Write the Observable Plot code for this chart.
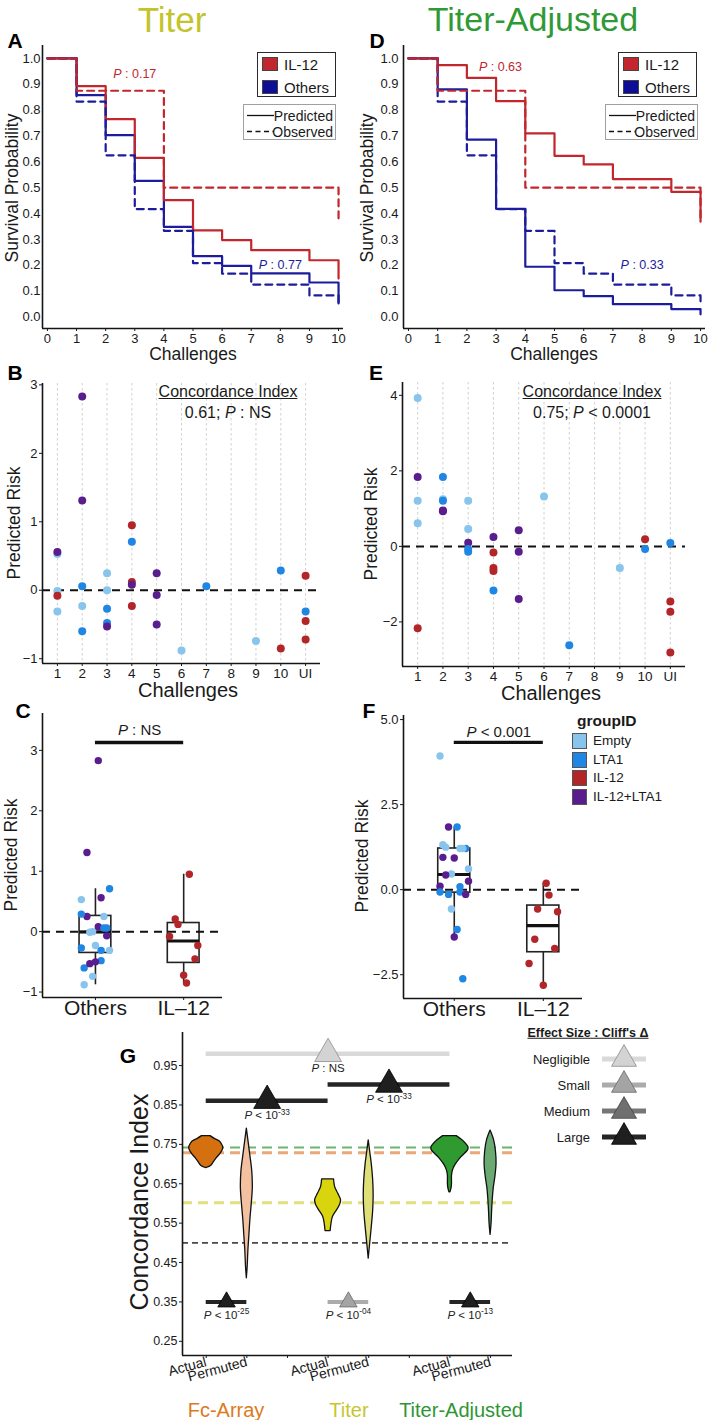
<!DOCTYPE html>
<html>
<head>
<meta charset="utf-8">
<script src="https://cdn.jsdelivr.net/npm/d3@7"></script>
<script src="https://cdn.jsdelivr.net/npm/@observablehq/plot@0.6"></script>
<style>
  html,body{margin:0;padding:0;background:#fff;}
  #root{position:relative;width:709px;height:1420px;overflow:hidden;font-family:"Liberation Sans",Arial,sans-serif;color:#1a1a1a;background:#fff;}
  .pl{position:absolute;}
  .pl svg{max-width:none !important;}
  .t{position:absolute;white-space:nowrap;line-height:1;}
</style>
</head>
<body>
<div id="root"></div>
<script>
// ================= DATA =================
// Survival curves (A, D)
const challenges = [0,1,2,3,4,5,6,7,8,9,10];
const titerPredIL12   = [1, 0.893, 0.765, 0.615, 0.452, 0.335, 0.297, 0.258, 0.258, 0.219, 0.148];
const titerPredOthers = [1, 0.858, 0.703, 0.526, 0.348, 0.235, 0.197, 0.168, 0.168, 0.133, 0.052];
const adjPredIL12     = [1, 0.974, 0.925, 0.835, 0.710, 0.623, 0.590, 0.533, 0.533, 0.484, 0.368];
const adjPredOthers   = [1, 0.880, 0.686, 0.418, 0.194, 0.103, 0.080, 0.049, 0.049, 0.030, 0.010];
const obsIL12         = [1, 0.875, 0.875, 0.875, 0.500, 0.500, 0.500, 0.500, 0.500, 0.500, 0.375];
const obsOthers       = [1, 0.833, 0.625, 0.417, 0.333, 0.208, 0.167, 0.125, 0.125, 0.083, 0.042];
const survTicks = [0, 0.1, 0.2, 0.3, 0.4, 0.5, 0.6, 0.7, 0.8, 0.9, 1.0];

// Predicted risk by challenge (B: Titer, E: Titer-Adjusted); 11 = UI
const challengeTickLabels = ["1","2","3","4","5","6","7","8","9","10","UI"];
const groupNames  = ["Empty","LTA1","IL-12","IL-12+LTA1"];
const groupColors = ["#88c4ec","#1f86e4","#b22528","#5a1d8e"];

const titerRiskChallenge = [1,1,1,1,1, 2,2,2,2,2, 3,3,3,3,3, 4,4,4,4,4, 5,5,5, 6, 7, 9, 10,10, 11,11,11,11];
const titerRiskGroup = ["Empty","IL-12+LTA1","Empty","IL-12","Empty",
  "IL-12+LTA1","IL-12+LTA1","LTA1","Empty","LTA1",
  "Empty","Empty","LTA1","LTA1","IL-12+LTA1",
  "IL-12","LTA1","IL-12","IL-12+LTA1","IL-12",
  "IL-12+LTA1","IL-12+LTA1","IL-12+LTA1",
  "Empty","LTA1","Empty","LTA1","IL-12",
  "IL-12","LTA1","IL-12","IL-12"];
const titerRiskValue = [0.53,0.56,-0.01,-0.08,-0.31,
  2.83,1.31,0.06,-0.23,-0.60,
  0.25,0.00,-0.27,-0.48,-0.53,
  0.95,0.71,0.12,0.08,-0.23,
  0.25,-0.07,-0.50,
  -0.88,0.06,-0.74,0.29,-0.85,
  0.21,-0.31,-0.45,-0.72];

const adjRiskChallenge = [1,1,1,1,1, 2,2,2,2,2, 3,3,3,3,3, 4,4,4,4,4, 5,5,5, 6, 7, 9, 10,10, 11,11,11,11];
const adjRiskGroup = ["Empty","Empty","IL-12+LTA1","Empty","IL-12",
  "LTA1","Empty","LTA1","IL-12+LTA1","IL-12+LTA1",
  "Empty","Empty","IL-12+LTA1","LTA1","LTA1",
  "IL-12+LTA1","IL-12","IL-12","IL-12","LTA1",
  "IL-12+LTA1","IL-12+LTA1","IL-12+LTA1",
  "Empty","LTA1","Empty","IL-12","LTA1",
  "LTA1","IL-12","IL-12","IL-12"];
const adjRiskValue = [3.93,1.21,1.84,0.61,-2.17,
  1.84,1.25,1.21,0.93,0.95,
  1.21,0.46,0.10,-0.07,-0.14,
  0.25,-0.16,-0.57,-0.65,-1.17,
  0.43,-0.14,-1.39,
  1.32,-2.62,-0.57,0.19,-0.07,
  0.09,-1.46,-1.73,-2.81];

const boxTickLabels = ["Others","IL\u201312"];

// Panel G: concordance index violins
const gCategoryLabels = ["Actual","Permuted","","Actual","Permuted","","Actual","Permuted"];
const gTicks = [0.25, 0.35, 0.45, 0.55, 0.65, 0.75, 0.85, 0.95];
const violinPos = [1, 2, 4, 5, 7, 8];
const violinFcActualY = [0.690, 0.696, 0.705, 0.714, 0.724, 0.734, 0.742, 0.750, 0.757, 0.764, 0.771];
const violinFcActualD = [0.02, 0.30, 0.45, 0.60, 0.80, 0.95, 1.00, 0.92, 0.80, 0.50, 0.25];
const violinFcPermY = [0.41, 0.44, 0.48, 0.52, 0.56, 0.60, 0.64, 0.68, 0.72, 0.76, 0.79];
const violinFcPermD = [0.00, 0.05, 0.09, 0.15, 0.21, 0.29, 0.35, 0.32, 0.21, 0.09, 0.00];
const violinTiterActualY = [0.530, 0.549, 0.566, 0.583, 0.596, 0.608, 0.625, 0.642, 0.661];
const violinTiterActualD = [0.15, 0.20, 0.29, 0.53, 0.70, 0.76, 0.59, 0.41, 0.35];
const violinTiterPermY = [0.46, 0.50, 0.54, 0.58, 0.62, 0.66, 0.70, 0.73, 0.76];
const violinTiterPermD = [0.00, 0.09, 0.18, 0.26, 0.29, 0.26, 0.18, 0.09, 0.00];
const violinAdjActualY = [0.628, 0.640, 0.650, 0.671, 0.684, 0.696, 0.714, 0.734, 0.742, 0.757, 0.771];
const violinAdjActualD = [0.03, 0.10, 0.12, 0.12, 0.18, 0.30, 0.60, 1.05, 1.09, 0.82, 0.40];
const violinAdjPermY = [0.52, 0.55, 0.58, 0.61, 0.64, 0.67, 0.70, 0.73, 0.76, 0.785];
const violinAdjPermD = [0.00, 0.06, 0.09, 0.13, 0.19, 0.29, 0.35, 0.32, 0.21, 0.00];
const refLineValues = [0.500, 0.602, 0.729, 0.742];

const effectX1 = [1, 1, 4, 1, 4, 7];
const effectX2 = [7, 4, 7, 2, 5, 8];
const effectY  = [0.980, 0.861, 0.902, 0.350, 0.350, 0.350];
const effectSize = ["Negligible","Large","Large","Large","Small","Large"];
const effectP = ["_P_ : NS","_P_ < 10^-33^","_P_ < 10^-33^","_P_ < 10^-25^","_P_ < 10^-04^","_P_ < 10^-13^"];
const effectLevels = ["Negligible","Small","Medium","Large"];

// ================= STYLE =================
const FONT = '"Liberation Sans", Arial, sans-serif';
const RED = "#c1272d", BLUE = "#1c1c9c";
const violinColors = ["#d4700f","#f3c0a0","#d8d50f","#dfdf7a","#2f9a2f","#6aaa72"];
const refLineColors = ["#4a4a4a","#e0e07c","#eba67a","#6db56d"];
const effectBarColors  = ["#d9d9d9","#ababab","#767676","#252525"];
const effectTriFill    = ["#d3d3d3","#a4a4a4","#6f6f6f","#1f1f1f"];
const effectTriStroke  = ["#8c8c8c","#6b6b6b","#444444","#000000"];
const baseStyle = {fontFamily: FONT, background: "transparent", color: "#1a1a1a", overflow: "visible"};
const AX = "#151515";

// ================= HELPERS =================
const root = document.getElementById("root");
function T(html, x, y, o = {}) {
  const d = document.createElement("div");
  d.className = "t";
  d.innerHTML = html;
  Object.assign(d.style, {left: x + "px", top: y + "px", fontSize: (o.size || 14) + "px",
    color: o.color || "#1a1a1a", fontWeight: o.bold ? "bold" : "normal"});
  if (o.underline) d.style.textDecoration = "underline";
  const ax = o.anchor === "start" ? "0" : o.anchor === "end" ? "-100%" : "-50%";
  d.style.transform = `translate(${ax},-50%)` + (o.rot ? ` rotate(${o.rot}deg)` : "");
  (o.parent || root).appendChild(d);
  return d;
}
function richify(svg) {
  const NS = "http://www.w3.org/2000/svg";
  svg.querySelectorAll("text").forEach(t => {
    const s = t.textContent;
    if (!/[_^]/.test(s)) return;
    while (t.firstChild) t.removeChild(t.firstChild);
    let it = false, sup = false, buf = "";
    const flush = () => {
      if (!buf) return;
      const ts = document.createElementNS(NS, "tspan");
      if (it) ts.setAttribute("font-style", "italic");
      if (sup) { ts.setAttribute("font-size", "0.72em"); ts.setAttribute("dy", "-0.5em"); }
      ts.textContent = buf; t.appendChild(ts); buf = "";
    };
    for (const ch of s) {
      if (ch === "_") { flush(); it = !it; }
      else if (ch === "^") { flush(); sup = !sup; }
      else buf += ch;
    }
    flush();
  });
}
function place(svg, left, top) {
  const d = document.createElement("div");
  d.className = "pl";
  d.style.left = left + "px"; d.style.top = top + "px";
  d.appendChild(svg); root.appendChild(d); richify(svg);
}
function boxStats(vals) {
  const s = vals.slice().sort(d3.ascending);
  const q1 = d3.quantile(s, 0.25), med = d3.quantile(s, 0.5), q3 = d3.quantile(s, 0.75);
  const iqr = q3 - q1;
  return {q1, med, q3, lo: d3.min(s.filter(v => v >= q1 - 1.5 * iqr)), hi: d3.max(s.filter(v => v <= q3 + 1.5 * iqr))};
}
const intFmt = d3.format("d");

// ================= A / D: survival =================
function survPlot(predIL, predOth, pLabels, o) {
  const mk = arr => challenges.map((c, i) => ({x: c, y: arr[i]}));
  const yd = [-0.045, 1.05], xd = [-0.17, 10.17];
  return Plot.plot({
    width: o.width, height: 370, marginLeft: o.ml, marginRight: o.mr, marginTop: 45, marginBottom: 42,
    x: {domain: xd, label: null}, y: {domain: yd, label: null},
    style: baseStyle,
    marks: [
      Plot.axisX({ticks: challenges, tickSize: 3, tickPadding: 2, fontSize: 13, label: null}),
      Plot.axisY({ticks: survTicks, tickFormat: d3.format(".1f"), tickSize: 0, tickPadding: o.tp, fontSize: 13, label: null}),
      Plot.line(mk(predOth), {x: "x", y: "y", curve: "step-after", stroke: BLUE, strokeWidth: 2.2}),
      Plot.line(mk(predIL), {x: "x", y: "y", curve: "step-after", stroke: RED, strokeWidth: 2.2}),
      Plot.line(mk(obsOthers), {x: "x", y: "y", curve: "step-after", stroke: BLUE, strokeWidth: 2.2, strokeDasharray: "7,5"}),
      Plot.line(mk(obsIL12), {x: "x", y: "y", curve: "step-after", stroke: RED, strokeWidth: 2.2, strokeDasharray: "7,5"}),
      ...pLabels.map(p => Plot.text([p], {x: "x", y: "y", text: "label", fill: p.color, fontSize: 12.5})),
      Plot.ruleX([xd[0]], {stroke: AX, strokeWidth: 1.6}),
      Plot.ruleY([yd[0]], {stroke: AX, strokeWidth: 1.6})
    ]
  });
}
place(survPlot(titerPredIL12, titerPredOthers,
  [{x: 3.0, y: 0.94, label: "_P_ : 0.17", color: RED}, {x: 8.0, y: 0.2, label: "_P_ : 0.77", color: BLUE}],
  {width: 355, ml: 42, mr: 12, tp: 2}), 0, 0);
place(survPlot(adjPredIL12, adjPredOthers,
  [{x: 3.15, y: 0.965, label: "_P_ : 0.63", color: RED}, {x: 8.0, y: 0.2, label: "_P_ : 0.33", color: BLUE}],
  {width: 354, ml: 48, mr: 4, tp: 5}), 355, 0);

// ================= B / E: risk by challenge =================
function riskPlot(ch, grp, val, o) {
  const rows = val.map((v, i) => ({challenge: ch[i], group: grp[i], value: v}));
  const cats = d3.range(1, challengeTickLabels.length + 1);
  const xd = [0.4, challengeTickLabels.length + 0.6];
  return Plot.plot({
    width: o.width, height: 330, marginLeft: o.ml, marginRight: o.mr, marginTop: o.mt, marginBottom: o.mb,
    x: {domain: xd, label: null}, y: {domain: o.yd, label: null},
    color: {domain: groupNames, range: groupColors},
    style: baseStyle,
    marks: [
      Plot.ruleX(cats, {stroke: "#c4c4c4", strokeWidth: 0.8, strokeDasharray: "2.5,2.5"}),
      Plot.ruleY([0], {stroke: "#111", strokeWidth: 2, strokeDasharray: "8,6"}),
      Plot.axisX({ticks: cats, tickFormat: d => challengeTickLabels[d - 1], tickSize: 3, tickPadding: 2, fontSize: 13.5, label: null}),
      Plot.axisY({ticks: o.yt, tickFormat: intFmt, tickSize: 3, tickPadding: 2, fontSize: 13, label: null}),
      Plot.dot(rows, {x: "challenge", y: "value", fill: "group", r: 4}),
      Plot.ruleX([xd[0]], {stroke: AX, strokeWidth: 1.6}),
      Plot.ruleY([o.yd[0]], {stroke: AX, strokeWidth: 1.6})
    ]
  });
}
place(riskPlot(titerRiskChallenge, titerRiskGroup, titerRiskValue,
  {width: 355, ml: 42, mr: 35, mt: 13, mb: 37, yd: [-1.07, 3.02], yt: [-1, 0, 1, 2, 3]}), 0, 370);
place(riskPlot(adjRiskChallenge, adjRiskGroup, adjRiskValue,
  {width: 354, ml: 47, mr: 24, mt: 12, mb: 34, yd: [-3.18, 4.34], yt: [-2, 0, 2, 4]}), 355, 370);

// ================= C / F: box plots =================
function boxPlot(grp, val, o) {
  const counters = {1: 0, 2: 0};
  const rows = val.map((v, i) => {
    const box = grp[i] === "IL-12" ? 2 : 1;
    const k = counters[box]++;
    return {box, group: grp[i], value: v, jit: (((k * 7) % 11) / 10 - 0.5) * 0.32};
  });
  const stats = [1, 2].map(b => ({pos: b, ...boxStats(rows.filter(r => r.box === b).map(r => r.value))}));
  const BW = 0.18;
  return Plot.plot({
    width: o.width, height: 330, marginLeft: o.ml, marginRight: o.mr, marginTop: o.mt, marginBottom: o.mb,
    x: {domain: o.xd, label: null}, y: {domain: o.yd, label: null},
    color: {domain: groupNames, range: groupColors},
    style: baseStyle,
    marks: [
      Plot.axisX({ticks: [1, 2], tickFormat: d => boxTickLabels[d - 1], tickSize: 3, tickPadding: 0, fontSize: 21, label: null}),
      Plot.axisY({ticks: o.yt, tickFormat: o.fmt, tickSize: 3, tickPadding: 2, fontSize: 13, label: null}),
      Plot.ruleX(stats, {x: "pos", y1: "lo", y2: "q1", stroke: "#222", strokeWidth: 1.6}),
      Plot.ruleX(stats, {x: "pos", y1: "q3", y2: "hi", stroke: "#222", strokeWidth: 1.6}),
      Plot.rect(stats, {x1: d => d.pos - BW, x2: d => d.pos + BW, y1: "q1", y2: "q3", fill: "none", stroke: "#222", strokeWidth: 1.6}),
      Plot.ruleY(stats, {y: "med", x1: d => d.pos - BW, x2: d => d.pos + BW, stroke: "#111", strokeWidth: 3.2}),
      Plot.ruleY([0], {stroke: "#111", strokeWidth: 2, strokeDasharray: "8,6"}),
      Plot.dot(rows, {x: d => d.box + d.jit, y: "value", fill: "group", r: 3.7}),
      Plot.ruleY([o.sigY], {x1: () => 1, x2: () => 2, stroke: "#111", strokeWidth: 3.4}),
      Plot.text([o.sigText], {x: () => 1.5, y: () => o.sigTextY, text: d => d, fontSize: 15, fill: "#1a1a1a"}),
      Plot.ruleX([o.xd[0]], {stroke: AX, strokeWidth: 1.6}),
      Plot.ruleY([o.yd[0]], {stroke: AX, strokeWidth: 1.6})
    ]
  });
}
place(boxPlot(titerRiskGroup, titerRiskValue,
  {width: 355, ml: 42, mr: 133, mt: 13, mb: 33, xd: [0.4, 2.44], yd: [-1.09, 3.61], yt: [-1, 0, 1, 2, 3], fmt: intFmt,
   sigY: 3.13, sigTextY: 3.33, sigText: "_P_ : NS"}), 0, 700);
place(boxPlot(adjRiskGroup, adjRiskValue,
  {width: 354, ml: 48, mr: 127, mt: 15, mb: 32, xd: [0.43, 2.44], yd: [-3.2, 5.12], yt: [-2.5, 0, 2.5, 5], fmt: d3.format(".1f"),
   sigY: 4.33, sigTextY: 4.62, sigText: "_P_ < 0.001"}), 355, 700);

// ================= G: violins =================
(function () {
  const VW = 0.42;
  const profiles = [
    [violinFcActualY, violinFcActualD], [violinFcPermY, violinFcPermD],
    [violinTiterActualY, violinTiterActualD], [violinTiterPermY, violinTiterPermD],
    [violinAdjActualY, violinAdjActualD], [violinAdjPermY, violinAdjPermD]
  ];
  const violinMarks = profiles.map(([ys, ds], k) => {
    const pos = violinPos[k];
    const rows = ys.map((y, i) => ({y, x1: pos - ds[i] * VW, x2: pos + ds[i] * VW}));
    return Plot.areaX(rows, {y: "y", x1: "x1", x2: "x2", fill: violinColors[k], stroke: "#111", strokeWidth: 1.3, curve: "catmull-rom"});
  });
  const refMarks = refLineValues.map((v, i) => Plot.ruleY([v], {
    stroke: refLineColors[i], strokeWidth: i === 0 ? 1.6 : (i === 3 ? 2.2 : 3), strokeDasharray: i === 0 ? "6,4" : "10,6"}));
  const effRows = effectX1.map((x1, i) => ({x1, x2: effectX2[i], y: effectY[i], size: effectSize[i], p: effectP[i],
    mid: (x1 + effectX2[i]) / 2, small: effectX2[i] - x1 === 1}));
  const effMarks = [];
  effRows.forEach(r => {
    const k = effectLevels.indexOf(r.size);
    effMarks.push(Plot.ruleY([r], {y: "y", x1: "x1", x2: "x2", stroke: effectBarColors[k], strokeWidth: r.small ? 4 : 4.5}));
  });
  effRows.forEach(r => {
    const k = effectLevels.indexOf(r.size);
    effMarks.push(Plot.dot([r], {x: "mid", y: "y", symbol: "triangle", r: r.small ? 6.5 : 10,
      fill: effectTriFill[k], stroke: effectTriStroke[k], strokeWidth: 0.8}));
    effMarks.push(Plot.text([r], {x: "mid", y: "y", text: "p", dy: r.small ? 13 : 15, fontSize: 11.5, fill: "#222"}));
  });
  const xd = [0.416, 8.54], yd = [0.214, 1.034];
  place(Plot.plot({
    width: 709, height: 400, marginLeft: 182, marginRight: 197, marginTop: 12, marginBottom: 65,
    x: {domain: xd, label: null}, y: {domain: yd, label: null},
    style: baseStyle,
    marks: [
      Plot.axisY({ticks: gTicks, tickFormat: d3.format(".2f"), tickSize: 3, tickPadding: 2, fontSize: 12.5, label: null}),
      Plot.axisX({ticks: d3.range(1, 9), tickSize: 3, tickFormat: () => "", label: null}),
      Plot.axisX({ticks: [1, 2, 4, 5, 7, 8], tickSize: 0, tickPadding: 6, tickRotate: -15, fontSize: 14,
        tickFormat: d => gCategoryLabels[d - 1], label: null}),
      ...refMarks,
      ...violinMarks,
      ...effMarks,
      Plot.ruleX([xd[0]], {stroke: AX, strokeWidth: 1.6}),
      Plot.ruleY([yd[0]], {stroke: AX, strokeWidth: 1.6})
    ]
  }), 0, 1020);
})();

// ================= TEXT OVERLAYS =================
T("Titer", 172, 19, {size: 35, color: "#c3c32c"});
T("Titer-Adjusted", 533, 19, {size: 34, color: "#2f9a35"});
[["A", 15, 40], ["D", 377, 40], ["B", 15, 372], ["E", 376, 372], ["C", 23, 710], ["F", 369, 710], ["G", 128, 1055]]
  .forEach(([l, x, y]) => T(l, x, y, {size: 21, bold: true, color: "#000"}));
T("Survival Probability", 13, 188, {size: 17.5, rot: -90});
T("Survival Probability", 368, 188, {size: 17.5, rot: -90});
T("Challenges", 193, 355, {size: 17.5});
T("Challenges", 554, 355, {size: 17.5});
T("Predicted Risk", 15, 523, {size: 17.5, rot: -90});
T("Predicted Risk", 372, 524, {size: 17.5, rot: -90});
T("Predicted Risk", 12, 855, {size: 17.5, rot: -90});
T("Predicted Risk", 363, 856, {size: 17.5, rot: -90});
T("Challenges", 188, 690, {size: 20});
T("Challenges", 551, 693, {size: 20});
T("Concordance Index", 228, 392, {size: 16, underline: true});
T("0.61; <i>P</i> : NS", 228, 413, {size: 16});
T("Concordance Index", 592, 392, {size: 16, underline: true});
T("0.75; <i>P</i> &lt; 0.0001", 592, 413, {size: 16});
T("Concordance Index", 139, 1202, {size: 25, rot: -90});
T("Fc-Array", 226, 1410, {size: 20, color: "#dc7a1e"});
T("Titer", 349, 1410, {size: 20, color: "#c6c631"});
T("Titer-Adjusted", 461, 1410, {size: 20, color: "#2e9632"});

// survival legends
function survLegend(l1, l2) {
  const b1 = document.createElement("div");
  Object.assign(b1.style, {position: "absolute", left: l1 + "px", top: "52px", width: "79px", height: "45px",
    border: "1.5px solid #2a2a2a", boxSizing: "border-box", background: "#fff"});
  b1.innerHTML = `<div style="position:absolute;left:3.5px;top:3.5px;width:16px;height:14px;background:${RED};border:1px solid #444;box-sizing:border-box"></div>
    <div style="position:absolute;left:3.5px;top:26.5px;width:16px;height:14px;background:#0d0d96;border:1px solid #444;box-sizing:border-box"></div>`;
  root.appendChild(b1);
  T("IL-12", 26, 11, {size: 15, anchor: "start", parent: b1});
  T("Others", 26, 34, {size: 15, anchor: "start", parent: b1});
  const b2 = document.createElement("div");
  Object.assign(b2.style, {position: "absolute", left: l2 + "px", top: "104px", width: "93px", height: "36px",
    border: "1px solid #a0a0a0", boxSizing: "border-box", background: "#fff"});
  b2.innerHTML = `<svg width="32" height="34" style="position:absolute;left:1px;top:0">
    <line x1="2" x2="29" y1="10.5" y2="10.5" stroke="#111" stroke-width="1.3"/>
    <line x1="2" x2="29" y1="26.5" y2="26.5" stroke="#111" stroke-width="1.3" stroke-dasharray="5,3.5"/></svg>`;
  root.appendChild(b2);
  T("Predicted", 89, 10.5, {size: 14, anchor: "end", parent: b2});
  T("Observed", 89, 26.5, {size: 14, anchor: "end", parent: b2});
}
survLegend(257, 243);
survLegend(618, 605);

// groupID legend
T("groupID", 577, 721, {size: 15.5, bold: true, anchor: "start"});
[741, 759.5, 778, 797].forEach((y, i) => {
  const s = document.createElement("div");
  Object.assign(s.style, {position: "absolute", left: "572px", top: (y - 8) + "px", width: "15px", height: "16px",
    background: groupColors[i], border: "1px solid #555", boxSizing: "border-box"});
  root.appendChild(s);
  T(groupNames[i], 593, y, {size: 13.5, anchor: "start"});
});

// Effect size legend
T("Effect Size : Cliff's \u0394", 588, 1033, {size: 12.5, bold: true, underline: true});
[1059, 1085, 1111, 1137].forEach((y, i) => {
  T(effectLevels[i], 590, y, {size: 13, anchor: "end"});
  const NS = "http://www.w3.org/2000/svg";
  const svg = document.createElementNS(NS, "svg");
  svg.setAttribute("width", "52"); svg.setAttribute("height", "30");
  Object.assign(svg.style, {position: "absolute", left: "599px", top: (y - 15) + "px"});
  svg.innerHTML = `<line x1="3" x2="47" y1="15" y2="15" stroke="${effectBarColors[i]}" stroke-width="5"/>
    <polygon points="12.5,22.3 37.5,22.3 25,0.6" fill="${effectTriFill[i]}" stroke="${effectTriStroke[i]}" stroke-width="0.8"/>`;
  root.appendChild(svg);
});
</script>
</body>
</html>
